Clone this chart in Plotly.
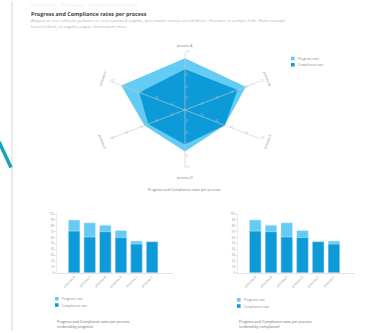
import math
import plotly.graph_objects as go

# ---- data -------------------------------------------------------------
processes = ["process A", "process B", "process C", "process D", "process E", "process F"]
progress = [90, 81, 53, 72, 54, 85]
compliance = [71, 70, 53, 60, 49, 61]
radar_ticks = [20, 40, 60, 80, 100]
bar_ticks = list(range(0, 101, 10))

LIGHT = "#63CBF4"
DARK = "#0C9BD8"
GRAY_TXT = "#8a8a8a"
FONT = "Open Sans"

W, H = 369, 333


def px(x):
    return x / W


def py(y):
    return 1 - y / H


def polar_xy(values):
    """Radar vertices, clockwise from the top spoke."""
    n = len(values)
    xs, ys = [], []
    for i, r in enumerate(values):
        t = math.radians(360 * i / n)
        xs.append(r * math.sin(t))
        ys.append(r * math.cos(t))
    return xs + xs[:1], ys + ys[:1]


fig = go.Figure()

# ---- radar ------------------------------------------------------------
for vals, col, name in [(progress, LIGHT, "Progress rate"), (compliance, DARK, "Compliance rate")]:
    xs, ys = polar_xy(vals)
    fig.add_trace(go.Scatter(x=xs, y=ys, fill="toself", fillcolor=col, mode="lines",
                             line=dict(width=0, color=col), name=name, showlegend=False,
                             hoverinfo="skip", xaxis="x", yaxis="y"))

rmax = radar_ticks[-1]
n = len(processes)
for i, p in enumerate(processes):
    t = math.radians(360 * i / n)
    # spoke
    fig.add_trace(go.Scatter(x=[0, rmax * math.sin(t)], y=[0, rmax * math.cos(t)], mode="lines",
                             line=dict(color="rgba(205,205,205,0.85)", width=0.7),
                             showlegend=False, hoverinfo="skip", xaxis="x", yaxis="y"))
    # tick labels along the spoke
    fig.add_trace(go.Scatter(x=[r * math.sin(t) for r in radar_ticks],
                             y=[r * math.cos(t) for r in radar_ticks],
                             mode="text", text=[str(r) for r in radar_ticks],
                             textposition="middle right",
                             textfont=dict(size=2.6, color="rgba(190,190,190,0.9)", family=FONT),
                             showlegend=False, hoverinfo="skip", xaxis="x", yaxis="y"))

annotations = []
label_r = [112, 110, 110, 117, 110, 110]
label_ang = [0, 69, -69, 0, 69, -69]
for i, p in enumerate(processes):
    t = math.radians(360 * i / n)
    annotations.append(dict(x=label_r[i] * math.sin(t), y=label_r[i] * math.cos(t), xref="x", yref="y",
                            text=p, showarrow=False, textangle=label_ang[i],
                            font=dict(size=3.4, color="#777", family=FONT)))

# ---- bar charts -------------------------------------------------------
order_prog = sorted(range(n), key=lambda i: -progress[i])
order_comp = sorted(range(n), key=lambda i: -compliance[i])

for order, xa, ya in [(order_prog, "x2", "y2"), (order_comp, "x3", "y3")]:
    cats = [processes[i] for i in order]
    fig.add_trace(go.Bar(x=cats, y=[progress[i] for i in order], marker_color=LIGHT,
                         name="Progress rate", showlegend=False, xaxis=xa, yaxis=ya))
    fig.add_trace(go.Bar(x=cats, y=[compliance[i] for i in order], marker_color=DARK,
                         name="Compliance rate", showlegend=False, xaxis=xa, yaxis=ya))

bar_x = dict(type="category", range=[-1.08, 6.34], tickangle=-45, showline=True,
             linecolor="#e2e2e2", linewidth=0.8, showgrid=False, ticks="",
             tickfont=dict(size=3.3, color="#888", family=FONT), zeroline=False)
bar_y = dict(range=[0, 102], tickvals=bar_ticks, showline=True, linecolor="#ececec",
             linewidth=0.8, showgrid=False, ticks="outside", ticklen=2, tickcolor="#e2e2e2",
             tickfont=dict(size=2.8, color="#999", family=FONT), zeroline=False)

shapes = [
    # page border and side accent
    dict(type="line", xref="paper", yref="paper", x0=px(12), x1=px(12), y0=0, y1=1,
         line=dict(color="#e4e4e4", width=1.5)),
    dict(type="line", xref="paper", yref="paper", x0=px(-1), y0=py(142), x1=px(11), y1=py(168),
         line=dict(color="#14a5b6", width=3.5)),
]


def legend_at(x, y):
    for dy, col, label in [(0, LIGHT, "Progress rate"), (6.3, DARK, "Compliance rate")]:
        shapes.append(dict(type="rect", xref="paper", yref="paper",
                           x0=px(x), x1=px(x + 3.6), y0=py(y + dy + 1.8), y1=py(y + dy - 1.8),
                           fillcolor=col, line=dict(width=0)))
        annotations.append(dict(x=px(x + 5.2), y=py(y + dy), xref="paper", yref="paper",
                                xanchor="left", yanchor="middle", showarrow=False, text=label,
                                font=dict(size=3.3, color="#888", family=FONT)))


legend_at(291, 58)
legend_at(55, 300.5)
legend_at(237, 301.5)

# ---- texts ------------------------------------------------------------
annotations += [
    dict(x=px(29), y=py(4.5), xref="paper", yref="paper", xanchor="left", yanchor="middle",
         showarrow=False, text="Dashboard · Processes · Compliance overview",
         font=dict(size=5, color="#f0f0f0", family=FONT)),
    dict(x=px(29), y=py(13.5), xref="paper", yref="paper", xanchor="left", yanchor="middle",
         showarrow=False, text="<b>Progress and Compliance rates per process</b>",
         font=dict(size=5.4, color="#444", family=FONT)),
    dict(x=px(29), y=py(22.5), xref="paper", yref="paper", xanchor="left", yanchor="middle",
         showarrow=False, align="left",
         text="Aliquet ac nec vehicula pulvinar ac erat euismod sagittis, quis mattis metus orci id libero. "
              "Vivamus et semper felis. Nunc suscipit<br>laoreet diam, et sagittis augue elementum vitae.",
         font=dict(size=4.3, color="#b0b0b0", family=FONT)),
    dict(x=px(185), y=py(190), xref="paper", yref="paper", xanchor="center", yanchor="middle",
         showarrow=False, text="Progress and Compliance rates per process",
         font=dict(size=3.6, color="#777", family=FONT)),
    dict(x=px(55), y=py(325.5), xref="paper", yref="paper", xanchor="left", yanchor="middle",
         showarrow=False, align="left",
         text="Progress and Compliance rates per process<br>(ordered by progress)",
         font=dict(size=3.6, color="#666", family=FONT)),
    dict(x=px(237), y=py(326), xref="paper", yref="paper", xanchor="left", yanchor="middle",
         showarrow=False, align="left",
         text="Progress and Compliance rates per process<br>(ordered by compliance)",
         font=dict(size=3.6, color="#666", family=FONT)),
]

fig.update_layout(
    width=W, height=H, margin=dict(l=0, r=0, t=0, b=0),
    paper_bgcolor="white", plot_bgcolor="rgba(0,0,0,0)",
    barmode="overlay", bargap=0.26, showlegend=False,
    xaxis=dict(domain=[px(60), px(310)], range=[-144.3, 144.3], visible=False),
    yaxis=dict(domain=[py(180), py(40)], range=[-120.7, 120.7], visible=False),
    xaxis2=dict(domain=[px(57.3), px(173)], anchor="y2", **bar_x),
    yaxis2=dict(domain=[py(274.3), py(213.8)], anchor="x2", **bar_y),
    xaxis3=dict(domain=[px(238.3), px(355)], anchor="y3", **bar_x),
    yaxis3=dict(domain=[py(274.3), py(213.8)], anchor="x3", **bar_y),
    shapes=shapes, annotations=annotations,
)

fig.write_html("out.html")
